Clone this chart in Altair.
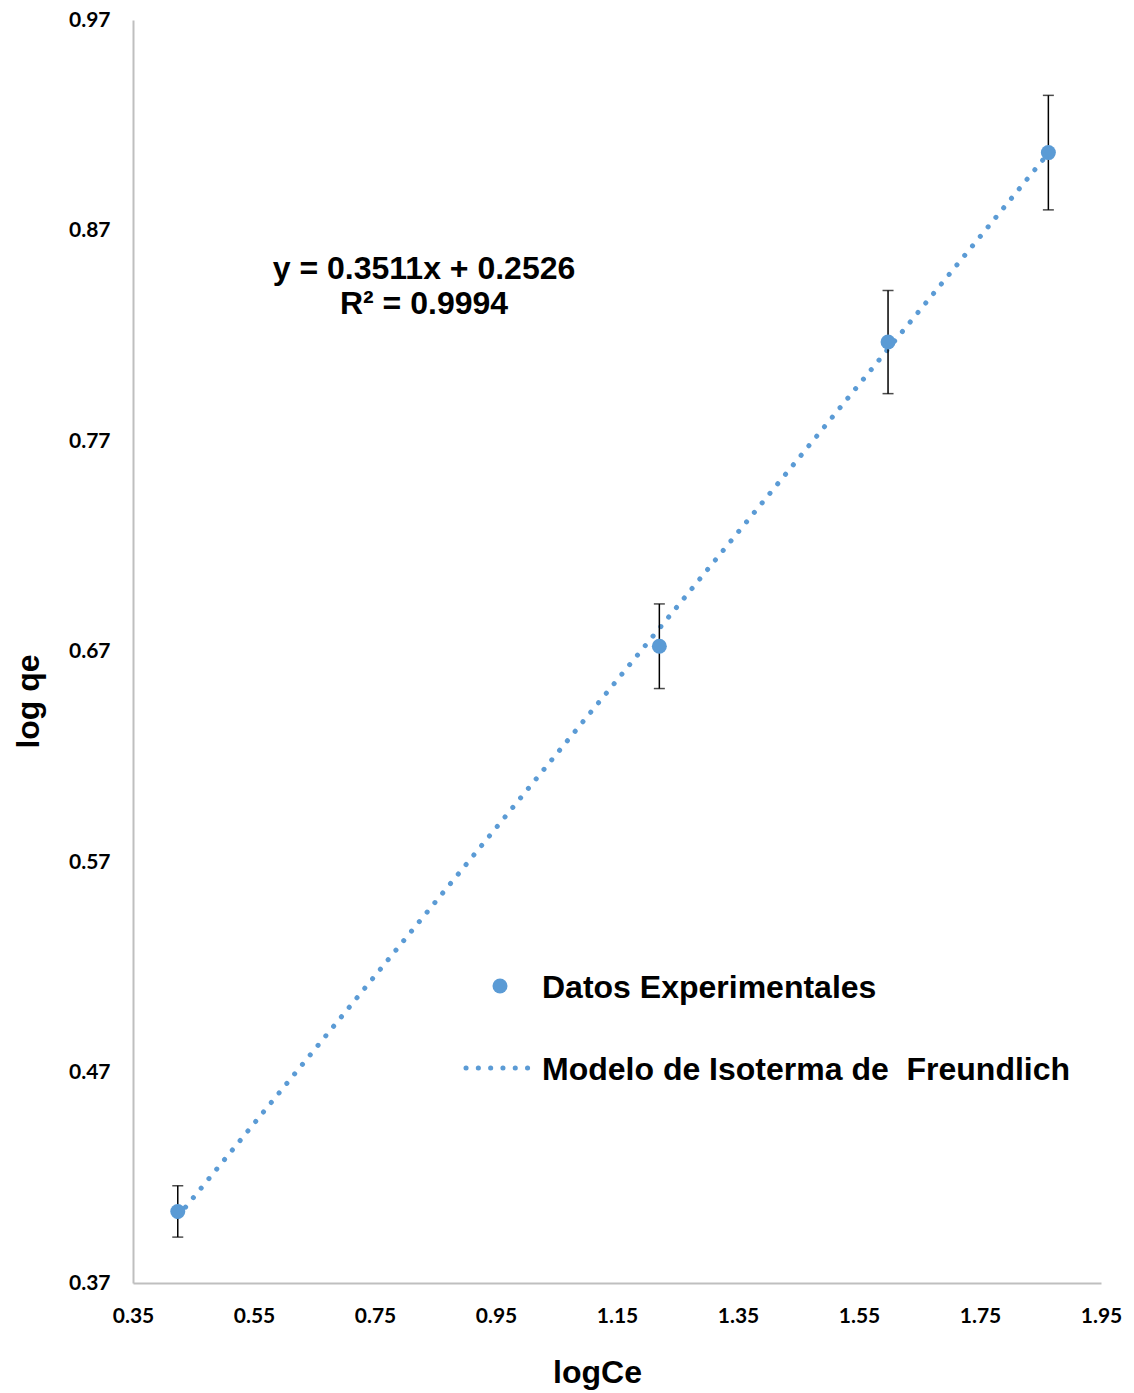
import altair as alt
import pandas as pd

# Data
log_ce = [0.424, 1.220, 1.598, 1.863]
log_qe = [0.404, 0.6725, 0.817, 0.907]
err = [0.0122, 0.0201, 0.0245, 0.0272]

# Freundlich trendline endpoints (y = 0.3511x + 0.2526)
trend_x = [0.424, 1.863]
trend_y = [0.4015, 0.9067]

x_ticks = [0.35, 0.55, 0.75, 0.95, 1.15, 1.35, 1.55, 1.75, 1.95]
y_ticks = [0.37, 0.47, 0.57, 0.67, 0.77, 0.87, 0.97]

equation_lines = ["y = 0.3511x + 0.2526", "R² = 0.9994"]
legend_labels = ["Datos Experimentales", "Modelo de Isoterma de\u00a0 Freundlich"]

BLUE = "#5B9BD5"
TXT_FONT = "Liberation Sans"
TICK_FONT = "Lato"

df = pd.DataFrame({
    "x": log_ce,
    "y": log_qe,
    "lo": [v - e for v, e in zip(log_qe, err)],
    "hi": [v + e for v, e in zip(log_qe, err)],
})
df_trend = pd.DataFrame({"x": trend_x, "y": trend_y})

xscale = alt.Scale(domain=[0.35, 1.95], nice=False, zero=False)
yscale = alt.Scale(domain=[0.37, 0.97], nice=False, zero=False)

xaxis = alt.Axis(
    title="logCe", values=x_ticks, format=".2f", grid=False, ticks=False, tickSize=0,
    domainColor="#bfbfbf", domainWidth=2,
    labelFont=TICK_FONT, labelFontWeight="bold", labelFontSize=21, labelColor="black",
    labelBaseline="middle", labelPadding=33, labelFlush=False, labelOverlap=False,
    titleFont=TXT_FONT, titleFontWeight="bold", titleFontSize=32, titleColor="black",
    titleX=464, titleY=89, titleBaseline="middle", titleAlign="center",
)
yaxis = alt.Axis(
    title="log qe", values=y_ticks, format=".2f", grid=False, ticks=False, tickSize=0,
    domainColor="#bfbfbf", domainWidth=2,
    labelFont=TICK_FONT, labelFontWeight="bold", labelFontSize=21, labelColor="black",
    labelPadding=23, labelFlush=False, labelOverlap=False,
    titleFont=TXT_FONT, titleFontWeight="bold", titleFontSize=32, titleColor="black",
    titleX=-105, titleY=681, titleAngle=-90, titleBaseline="middle", titleAlign="center",
)

base = alt.Chart(df)

trend = alt.Chart(df_trend).mark_line(
    color=BLUE, strokeWidth=5, strokeDash=[0.1, 12.2], strokeCap="round"
).encode(
    x=alt.X("x:Q", scale=xscale, axis=xaxis),
    y=alt.Y("y:Q", scale=yscale, axis=yaxis),
)

bars = base.mark_rule(color="black", strokeWidth=1.5).encode(
    x="x:Q", y="lo:Q", y2="hi:Q"
)
cap_lo = base.mark_tick(color="black", orient="horizontal", size=11, thickness=1.5).encode(
    x="x:Q", y="lo:Q"
)
cap_hi = base.mark_tick(color="black", orient="horizontal", size=11, thickness=1.5).encode(
    x="x:Q", y="hi:Q"
)
points = base.mark_point(filled=True, shape="circle", size=225, color=BLUE, opacity=1).encode(
    x="x:Q", y="y:Q"
)

eq_df = pd.DataFrame({"t": equation_lines, "py": [249, 284]})
eq = alt.Chart(eq_df).mark_text(
    font=TXT_FONT, fontWeight="bold", fontSize=32, color="black", align="center", baseline="middle"
).encode(x=alt.value(291), y=alt.Y("py:Q", scale=None), text="t:N")

leg_txt_df = pd.DataFrame({"t": legend_labels, "py": [968, 1050]})
leg_txt = alt.Chart(leg_txt_df).mark_text(
    font=TXT_FONT, fontWeight="bold", fontSize=32, color="black", align="left", baseline="middle"
).encode(x=alt.value(409), y=alt.Y("py:Q", scale=None), text="t:N")

leg_pt = alt.Chart(pd.DataFrame({"a": [0]})).mark_point(
    filled=True, shape="circle", size=225, color=BLUE, opacity=1
).encode(x=alt.value(367), y=alt.value(966))

leg_line = alt.Chart(pd.DataFrame({"px": [333, 395], "py": [1048, 1048]})).mark_line(
    color=BLUE, strokeWidth=5, strokeDash=[0.1, 12.2], strokeCap="round"
).encode(x=alt.X("px:Q", scale=None), y=alt.Y("py:Q", scale=None))

chart = alt.layer(
    trend, bars, cap_lo, cap_hi, points, eq, leg_txt, leg_pt, leg_line
).properties(
    width=968, height=1263,
    padding={"left": 133, "top": 20, "right": 33, "bottom": 110},
    autosize=alt.AutoSizeParams(type="none"),
    background="white",
).configure_view(stroke=None)

chart.save("out.html", embed_options={"renderer": "svg", "actions": False})
